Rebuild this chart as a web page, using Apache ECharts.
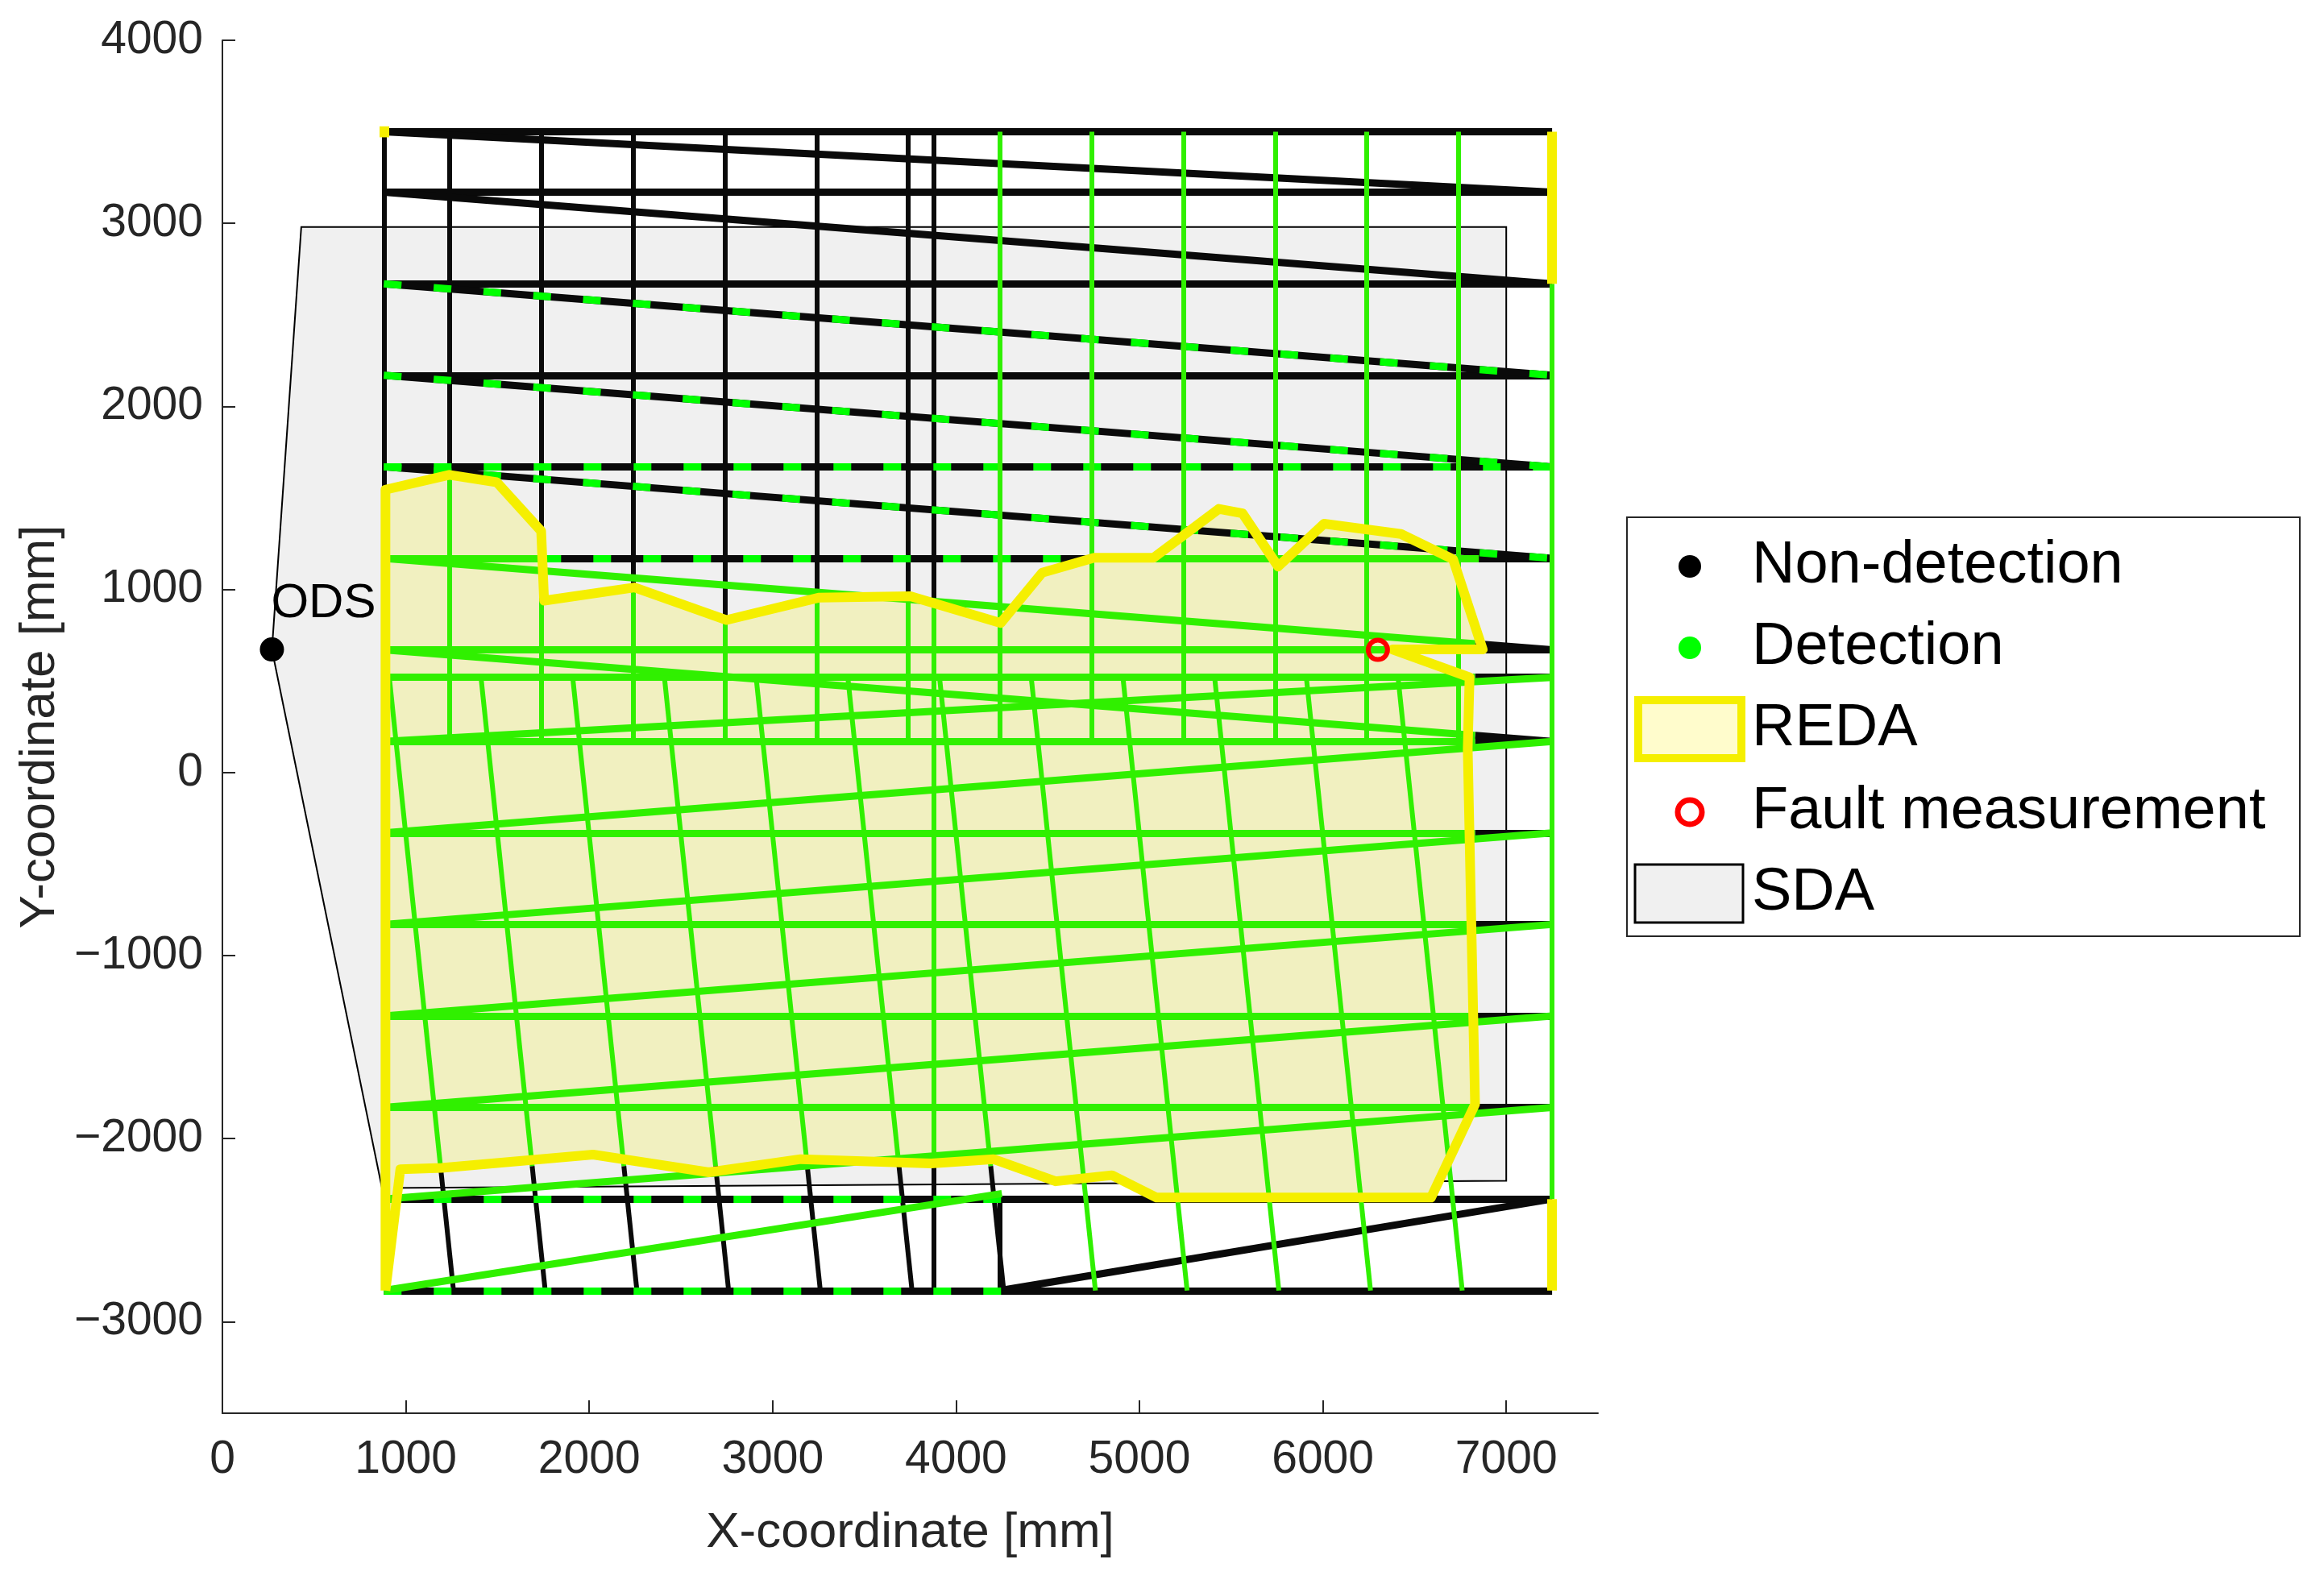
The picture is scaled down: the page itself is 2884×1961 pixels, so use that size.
<!DOCTYPE html>
<html><head><meta charset="utf-8">
<script src="https://cdn.jsdelivr.net/npm/echarts@6/dist/echarts.min.js"></script>
<style>html,body{margin:0;padding:0;background:#fff}#c{width:2884px;height:1961px}</style>
</head><body><div id="c"></div>
<script>
const xTicks = [0,1000,2000,3000,4000,5000,6000,7000];
const yTicks = [-3000,-2000,-1000,0,1000,2000,3000,4000];
const sda = [[430,2980],[7000,2980],[7000,-2230],[870,-2270],[270,672]];
const reda = [[889,-2830],[889,1545],[1237,1626],[1496,1586],[1738,1319],[1754,939],[2247,1011],[2749,833],[3250,955],[3751,963],[4244,817],[4470,1092],[4753,1173],[5077,1173],[5433,1440],[5562,1416],[5756,1125],[6006,1359],[6426,1303],[6710,1165],[6872,672],[6380,672],[6800,520],[6790,130],[6830,-1812],[6590,-2322],[5093,-2322],[4850,-2200],[4543,-2233],[4204,-2112],[3864,-2136],[3153,-2112],[2652,-2184],[2021,-2087],[1196,-2160],[970,-2168],[889,-2830]];
const redaEdges = [[7250,3500,7250,2670],[7250,-2330,7250,-2830],[880,3530,880,3470]];
const ods = [270,672];
const fault = [6300,670];
const blackRows = [[880,3500,7250,3500],[880,3170,7250,3170],[880,2670,7250,2670],[880,2170,7250,2170],[880,1670,7250,1670],[1750,1170,4750,1170],[6850,1170,7250,1170],[6850,670,7250,670],[6830,520,7250,520],[6830,170,7250,170],[6830,-330,7250,-330],[6830,-830,7250,-830],[6830,-1330,7250,-1330],[6830,-1830,7250,-1830],[880,-2330,7250,-2330],[880,-2830,7250,-2830],
 [880,3500,7250,3170],[880,3170,7250,2670],[880,2670,7250,2170],[880,2170,7250,1670],[880,1670,7250,1170],[6830,703,7250,670],[6830,203,7250,170],[4240,-2830,7250,-2330]];
const greenRows = [[880,1170,1750,1170],[4750,1170,6850,1170],[880,670,6850,670],[880,520,6830,520],[880,170,6830,170],[880,-330,6830,-330],[880,-830,6830,-830],[880,-1330,6830,-1330],[880,-1830,6830,-1830],
 [880,1170,6830,703],[880,670,6830,203],[880,170,7250,520],[880,-330,7250,170],[880,-830,7250,-330],[880,-1330,7250,-830],[880,-1830,7250,-1330],[880,-2330,7250,-1830],[880,-2830,4250,-2300]];
const greenDashRows = [[880,2670,7250,2170],[880,2170,7250,1670],[880,1670,7250,1170],[1750,1170,4750,1170],[880,1670,7250,1670],[880,-2330,4250,-2330],[880,-2830,4250,-2830]];
const blackCols = [[880,3500,880,1545],[1240,3500,1240,1626],[1740,3500,1740,1320],[2240,3500,2240,1011],[2740,3500,2740,833],[3240,3500,3240,955],[3740,3500,3740,963],[3880,3500,3880,900],[3880,-2136,3880,-2830],[4240,-2330,4240,-2830]];
const greenCols = [[1240,1626,1240,170],[1740,1320,1740,170],[2240,1011,2240,170],[2740,833,2740,170],[3240,955,3240,170],[3740,963,3740,170],[3880,900,3880,-2136],[4240,3500,4240,170],[4740,3500,4740,170],[5240,3500,5240,170],[5740,3500,5740,170],[6240,3500,6240,170],[6740,3500,6740,170],[7250,2670,7250,-2330]];
const tiltBottomX = [1260,1760,2260,2760,3260,3760,4260,4760,5260,5760,6260,6760];
const tiltTopY = 520, tiltBottomY = -2830, tiltShift = 350, redaBottomY = -2150;

const tiltGreen = [], tiltBlack = [];
tiltBottomX.forEach(xb => {
  const xt = xb - tiltShift;
  if (xb <= 4260) {
    const xs = xt + (xb - xt) * (tiltTopY - redaBottomY) / (tiltTopY - tiltBottomY);
    tiltGreen.push([xt, tiltTopY, xs, redaBottomY]);
    tiltBlack.push([xs, redaBottomY, xb, tiltBottomY]);
  } else tiltGreen.push([xt, tiltTopY, xb, tiltBottomY]);
});

const toLines = a => a.map(s => ({coords: [[s[0], s[1]], [s[2], s[3]]]}));
function linesSeries(a, color, width, type, z) {
  return {type: 'lines', coordinateSystem: 'cartesian2d', data: toLines(a), z: z || 3, silent: true,
    lineStyle: {color: color, width: width, type: type || 'solid', opacity: 1, cap: 'butt'}};
}
function polySeries(pts, style, z) {
  return {type: 'custom', data: pts, encode: {x: 0, y: 1}, z: z, silent: true, clip: true,
    renderItem: (p, api) => {
      if (p.dataIndexInside > 0) return null;
      return {type: 'polygon', shape: {points: pts.map(q => api.coord(q))}, style: style};
    }};
}
const BLACK = '#0a0a0a', GREEN = '#30f000', GREEN2 = '#00ff00', YEL = '#f5ef00';
const chart = echarts.init(document.getElementById('c'), null, {renderer: 'canvas'});
const FONT = 'Liberation Sans';
const lx = 2029, rowsY = [703, 804, 905, 1008, 1109], tx = 2174;
chart.setOption({
  animation: false,
  backgroundColor: '#fff',
  textStyle: {fontFamily: FONT},
  grid: {left: 276, right: 901, top: 50, bottom: 207},
  xAxis: {type: 'value', min: 0, max: 7500, interval: 500,
    name: 'X-coordinate [mm]', nameLocation: 'middle', nameGap: 118,
    nameTextStyle: {fontSize: 62, color: '#262626', fontFamily: FONT},
    axisLine: {onZero: false, lineStyle: {color: '#262626', width: 2}},
    axisTick: {inside: true, length: 16, lineStyle: {color: '#262626', width: 2}, customValues: xTicks},
    axisLabel: {fontSize: 57, color: '#262626', margin: 30, customValues: xTicks, fontFamily: FONT,
      formatter: v => String(v)},
    splitLine: {show: false}},
  yAxis: {type: 'value', min: -3500, max: 4000, interval: 500,
    name: 'Y-coordinate [mm]', nameLocation: 'middle', nameGap: 192, nameRotate: 90,
    nameTextStyle: {fontSize: 62, color: '#262626', fontFamily: FONT},
    axisLine: {onZero: false, lineStyle: {color: '#262626', width: 2}},
    axisTick: {inside: true, length: 16, lineStyle: {color: '#262626', width: 2}, customValues: yTicks},
    axisLabel: {fontSize: 57, color: '#262626', margin: 24, customValues: yTicks, fontFamily: FONT,
      formatter: v => String(v).replace('-', '\u2212')},
    splitLine: {show: false}},
  series: [
    polySeries(sda, {fill: '#f0f0f0', stroke: '#000', lineWidth: 2}, 1),
    polySeries(reda, {fill: '#f1f0c0', stroke: null}, 2),
    linesSeries(blackRows, BLACK, 9, 'solid', 3),
    linesSeries(blackCols, BLACK, 6, 'solid', 3),
    linesSeries(tiltBlack, BLACK, 6, 'solid', 3),
    linesSeries(greenDashRows, GREEN2, 9, [22, 40], 4),
    linesSeries(greenRows, GREEN, 9, 'solid', 4),
    linesSeries(greenCols, GREEN, 6, 'solid', 4),
    linesSeries(tiltGreen, GREEN, 6, 'solid', 4),
    {type: 'line', data: reda, z: 6, symbol: 'none', silent: true,
      lineStyle: {color: YEL, width: 12, join: 'round'}},
    linesSeries(redaEdges, YEL, 12, 'solid', 6),
    {type: 'scatter', data: [ods], z: 7, symbol: 'circle', symbolSize: 30, itemStyle: {color: '#000', opacity: 1},
      label: {show: true, formatter: 'ODS', position: [14, -72], fontSize: 60, color: '#000', fontFamily: FONT}},
    {type: 'scatter', data: [fault], z: 7, symbol: 'circle', symbolSize: 24,
      itemStyle: {color: 'rgba(0,0,0,0)', borderColor: '#ff0000', borderWidth: 6, opacity: 1}}
  ],
  graphic: [
    {type: 'rect', shape: {x: 2019, y: 642, width: 835, height: 520}, style: {fill: '#fff', stroke: '#262626', lineWidth: 2}, z: 10},
    {type: 'circle', shape: {cx: 2097, cy: rowsY[0], r: 14}, style: {fill: '#000'}, z: 11},
    {type: 'circle', shape: {cx: 2097, cy: rowsY[1], r: 14}, style: {fill: '#00ff00'}, z: 11},
    {type: 'rect', shape: {x: lx + 4, y: rowsY[2] - 36, width: 128, height: 72}, style: {fill: '#fffccc', stroke: YEL, lineWidth: 10}, z: 11},
    {type: 'circle', shape: {cx: 2097, cy: rowsY[3], r: 15}, style: {fill: 'none', stroke: '#ff0000', lineWidth: 7}, z: 11},
    {type: 'rect', shape: {x: lx, y: rowsY[4] - 36, width: 134, height: 72}, style: {fill: '#f0f0f0', stroke: '#000', lineWidth: 3}, z: 11},
    ...['Non-detection', 'Detection', 'REDA', 'Fault measurement', 'SDA'].map((t, i) => ({
      type: 'text', x: tx, y: rowsY[i], z: 11,
      style: {text: t, fontSize: 74, fontFamily: FONT, fill: '#000', textVerticalAlign: 'middle', verticalAlign: 'middle'}}))
  ]
});
</script></body></html>
